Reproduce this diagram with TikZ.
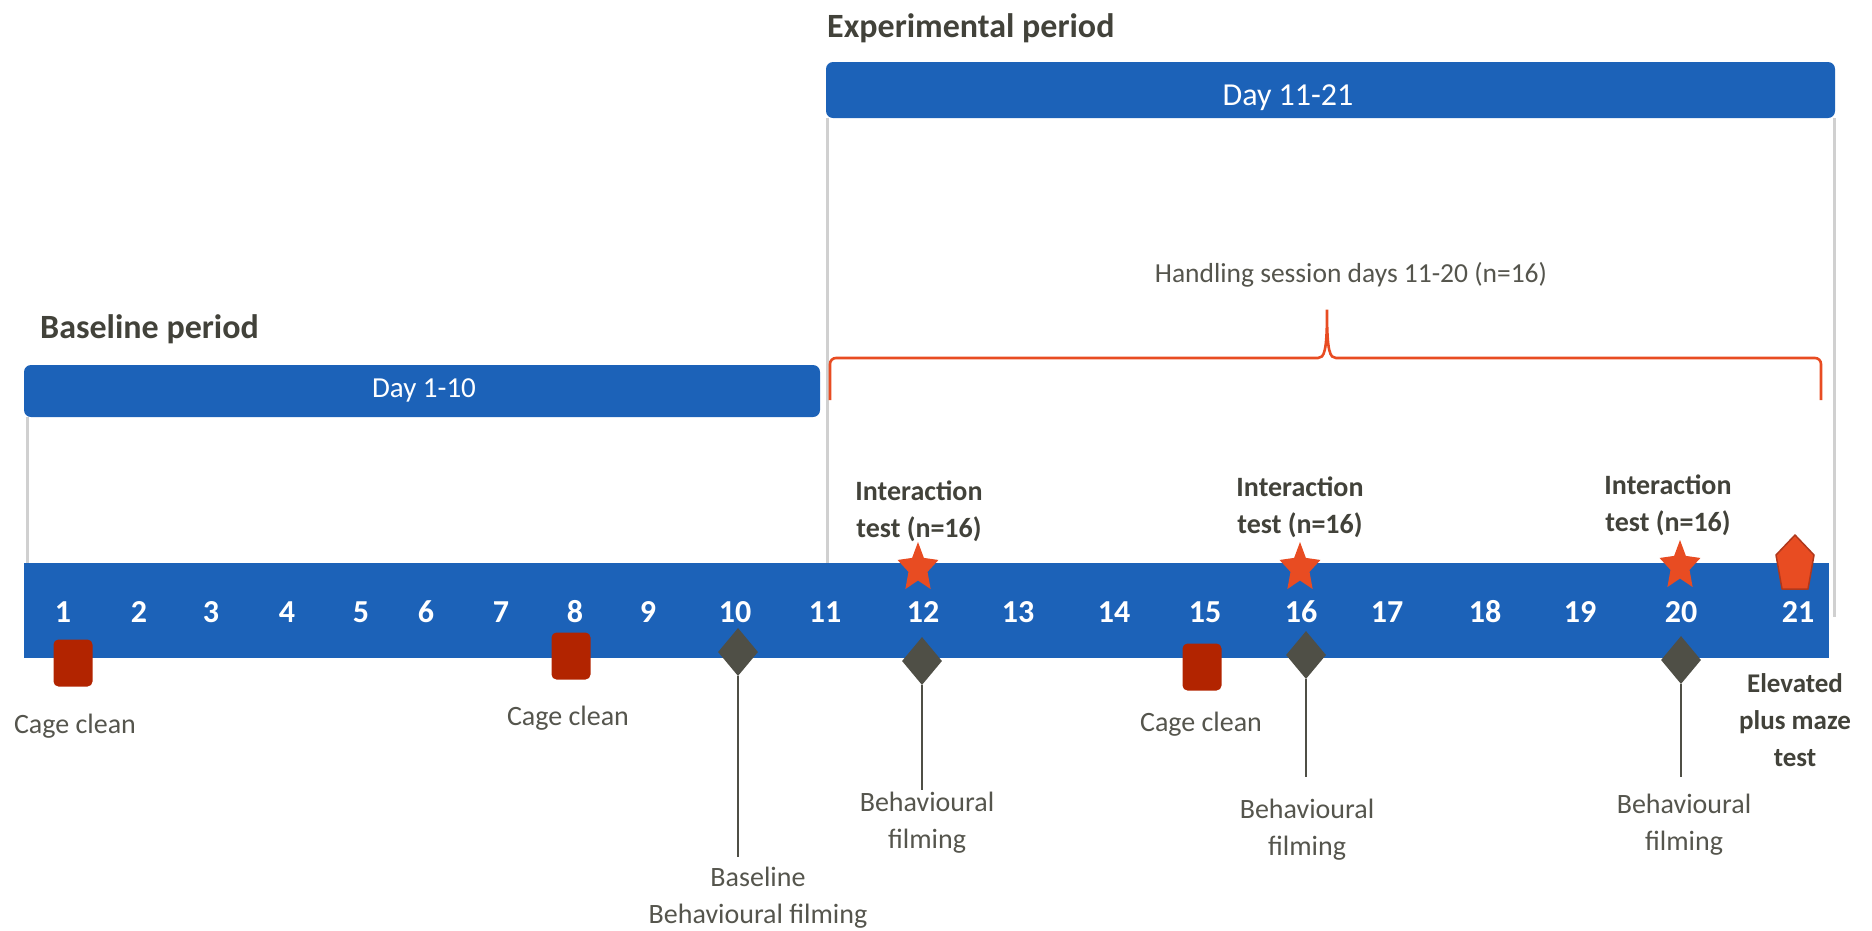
\documentclass[tikz,border=0pt]{standalone}
\usepackage{fontspec}
\setmainfont{Carlito}
\usetikzlibrary{shapes.geometric}
\definecolor{barblue}{RGB}{28,98,184}
\definecolor{accent}{RGB}{232,76,34}
\definecolor{accentdark}{RGB}{176,56,28}
\definecolor{cagered}{RGB}{178,36,0}
\definecolor{diagray}{RGB}{79,79,70}
\definecolor{txtgray}{RGB}{85,85,77}
\definecolor{titlegray}{RGB}{66,66,58}
\definecolor{guidegray}{RGB}{208,208,208}
\begin{document}
\begin{tikzpicture}[x=1pt,y=-1pt,
  bar/.style={fill=barblue, draw=none, rounded corners=7pt, inner sep=0},
  guide/.style={draw=guidegray, line width=3pt},
  daynum/.style={text=white, font=\bfseries\fontsize{32}{38}\selectfont, anchor=base, inner sep=0},
  bartext/.style={text=white, anchor=base, inner sep=0},
  lbl/.style={text=txtgray, font=\fontsize{28}{37}\selectfont, align=center, inner sep=0},
  boldlbl/.style={text=titlegray, font=\bfseries\fontsize{28}{37}\selectfont, align=center, inner sep=0},
  title/.style={text=titlegray, font=\bfseries\fontsize{34}{40}\selectfont, anchor=base west, inner sep=0},
  cage/.style={fill=cagered, rounded corners=5pt, minimum width=39pt, minimum height=47pt, inner sep=0},
  filmmark/.style={diamond, fill=diagray, minimum width=40pt, minimum height=48pt, inner sep=0},
  stem/.style={draw=diagray, line width=2pt},
  brace/.style={draw=accent, line width=2.6pt, rounded corners=6pt}
]
\useasboundingbox (0,0) rectangle (1872,930);

% period bars
\node[bar, minimum width=1009pt, minimum height=56pt] (expbar) at (1330.5,90) {};
\node[bar, minimum width=796pt, minimum height=52pt] (basebar) at (422,391) {};

% guide lines
\coordinate (gA1) at (27,417);  \coordinate (gA2) at (27,563);
\coordinate (gB1) at (827,118); \coordinate (gB2) at (827,563);
\coordinate (gC1) at (1834,118); \coordinate (gC2) at (1834,617);
\draw[guide] (gA1) -- (gA2);
\draw[guide] (gB1) -- (gB2);
\draw[guide] (gC1) -- (gC2);

% titles
\node[title] (exptitle) at (827,37) {Experimental period};
\node[title] (basetitle) at (40,338) {Baseline period};
\node[bartext, font=\fontsize{32}{38}\selectfont] (exptext) at (1288,105) {Day 11-21};
\node[bartext, font=\fontsize{29}{35}\selectfont] (basetext) at (424,397) {Day 1-10};

% handling brace
\node[text=txtgray, font=\fontsize{27.5}{33}\selectfont, anchor=base, inner sep=0] (handling) at (1351,282) {Handling session days 11-20 (n=16)};
\draw[brace] (830,400) -- (830,358) -- (1312,358)
  .. controls (1324,358) and (1327,352) .. (1327,306)
  .. controls (1327,352) and (1330,358) .. (1342,358)
  -- (1821,358) -- (1821,400);

% timeline bar
\node[fill=barblue, draw=none, inner sep=0, minimum width=1805pt, minimum height=95pt] (timeline) at (926.5,610.5) {};

% day numbers
\foreach \n/\x in {1/63,2/139,3/211,4/287,5/361,6/426,7/501,8/575,9/648,10/735,11/825,12/923,13/1018,14/1114,15/1205,16/1301,17/1387,18/1485,19/1580,20/1681,21/1798}
  \node[daynum] (day\n) at (\x,622) {\n};

% interaction stars
\foreach \sx/\sy in {918/568, 1300/568, 1680/566}
  \fill[accent] plot[samples at={0,...,9}, variable=\k]
    ({\sx+ifthenelse(mod(\k,2)==0,21.5,10)*cos(90+36*\k)},
     {\sy-ifthenelse(mod(\k,2)==0,26,12.5)*sin(90+36*\k)}) -- cycle;

% elevated plus maze pentagon
\filldraw[fill=accent, draw=accentdark, line width=1.5pt, line join=round]
  (1795,535) -- (1814,555) -- (1808,589) -- (1782,589) -- (1776,555) -- cycle;

% cage cleaning
\node[cage] (cage1) at (73,663) {};
\node[cage] (cage8) at (571,656) {};
\node[cage] (cage15) at (1202,667) {};

% filming diamonds and stems
\node[filmmark] (f10) at (738,652) {};
\node[filmmark] (f12) at (922,661) {};
\node[filmmark] (f16) at (1306,655) {};
\node[filmmark] (f20) at (1681,660) {};
\coordinate (e10) at (738,857);
\coordinate (e12) at (922,790);
\coordinate (e16) at (1306,777);
\coordinate (e20) at (1681,777);
\draw[stem] (f10.south) -- (e10);
\draw[stem] (f12.south) -- (e12);
\draw[stem] (f16.south) -- (e16);
\draw[stem] (f20.south) -- (e20);

% labels
\node[lbl, anchor=base] (cl1) at (75,733) {Cage clean};
\node[lbl, anchor=base] (cl8) at (568,725) {Cage clean};
\node[lbl, anchor=base] (cl15) at (1201,731) {Cage clean};

\node[boldlbl] (it12) at (919,511.5) {Interaction\\test (n=16)};
\node[boldlbl] (it16) at (1300,507.5) {Interaction\\test (n=16)};
\node[boldlbl] (it20) at (1668,505.5) {Interaction\\test (n=16)};

\node[lbl] (bf10) at (758,898) {Baseline\\Behavioural filming};
\node[lbl] (bf12) at (927,822.5) {Behavioural\\filming};
\node[lbl] (bf16) at (1307,830) {Behavioural\\filming};
\node[lbl] (bf20) at (1684,825) {Behavioural\\filming};

\node[boldlbl, font=\bfseries\fontsize{27}{37}\selectfont] (epm) at (1795,720.5) {Elevated\\plus maze\\test};
\end{tikzpicture}
\end{document}
